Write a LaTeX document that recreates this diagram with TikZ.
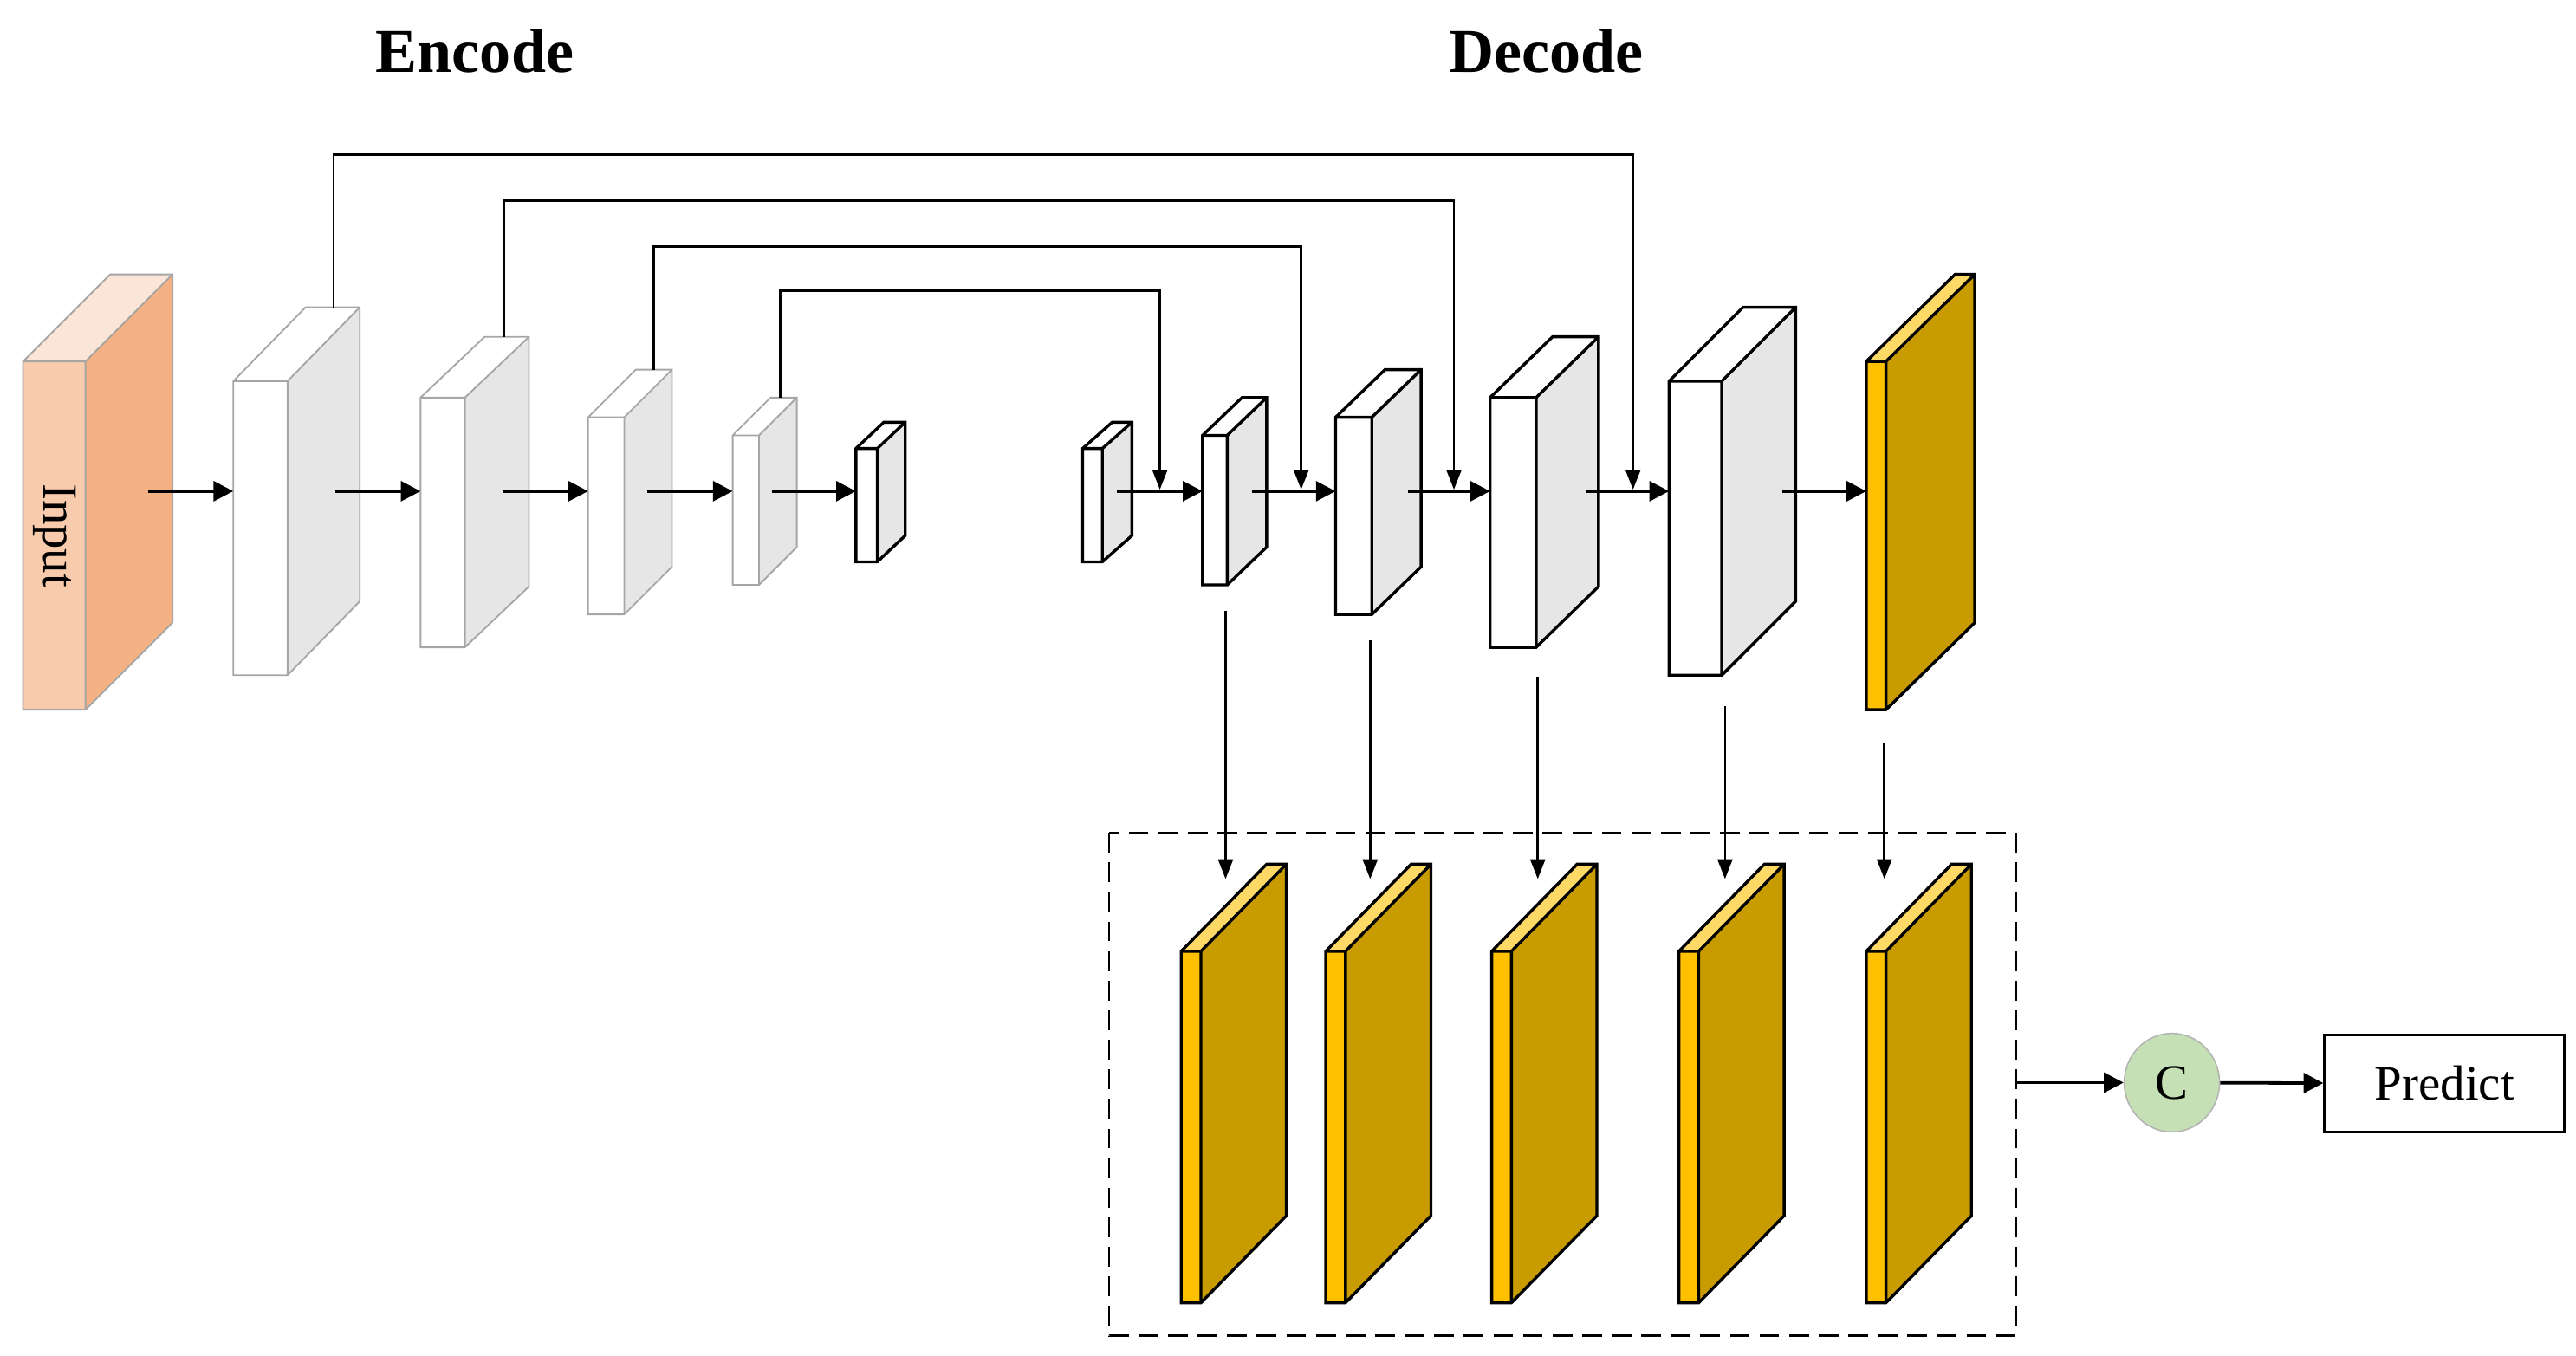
\documentclass[tikz,border=0pt]{standalone}
\usepackage{fontspec}
\setmainfont{Liberation Serif}
\usetikzlibrary{arrows.meta,shapes.geometric}
\definecolor{inF}{HTML}{F8CBAD}\definecolor{inS}{HTML}{F4B183}\definecolor{inT}{HTML}{FBE5D6}
\definecolor{gF}{HTML}{FFC000}\definecolor{gS}{HTML}{C89B00}\definecolor{gT}{HTML}{FFD966}
\definecolor{gS2}{HTML}{E6E6E6}\definecolor{cG}{HTML}{C5E0B4}
\newcommand\cubeblk[9]{%
 \fill[#9] (#1,#3)--(#1+#5,#3-#6)--(#2+#5,#3-#6)--(#2,#3)--cycle;
 \fill[#8] (#2,#3)--(#2+#5,#3-#6)--(#2+#5,#4-#6)--(#2,#4)--cycle;
 \fill[#7] (#1,#3) rectangle (#2,#4);
 \draw[blk] (#1,#3)--(#1+#5,#3-#6)--(#2+#5,#3-#6)--(#2+#5,#4-#6)--(#2,#4)--(#1,#4)--cycle
   (#1,#3)--(#2,#3)--(#2+#5,#3-#6) (#2,#3)--(#2,#4);}
\tikzset{blk/.style={draw=black!30,line width=0.6pt},
 arr/.style={-{Triangle[length=6pt,width=6pt]},line width=1pt},
 skip/.style={-{Triangle[length=6pt,width=4.5pt]},line width=0.7pt},
 dec/.style={blk/.style={draw=black,line width=0.9pt}}}
\begin{document}
\begin{tikzpicture}[x=0.5pt,y=-0.5pt]
\useasboundingbox (0,0) rectangle (1568,825);
\node[font=\bfseries\fontsize{19}{22}\selectfont] (enc) at (289,31) {Encode};
\node[font=\bfseries\fontsize{19}{22}\selectfont] (decl) at (941,31) {Decode};
% encoder
\begin{scope}[blk/.style={draw=black!35,line width=0.5pt}]
\cubeblk{14}{52}{220}{432}{53}{53}{inF}{inS}{inT}
\cubeblk{142}{175}{232}{411}{44}{45}{white}{gS2}{white}
\cubeblk{256}{283}{242}{394}{39}{37}{white}{gS2}{white}
\cubeblk{358}{380}{254}{374}{29}{29}{white}{gS2}{white}
\cubeblk{446}{462}{265}{356}{23}{23}{white}{gS2}{white}
\end{scope}
\node[rotate=-90,font=\fontsize{15}{18}\selectfont] (inp) at (33,326) {Input};
\begin{scope}[dec]
\cubeblk{521}{534}{273}{342}{17}{16}{white}{gS2}{white}
\cubeblk{659}{671}{273}{342}{18}{16}{white}{gS2}{white}
\cubeblk{732}{747}{265}{356}{24}{23}{white}{gS2}{white}
\cubeblk{813}{835}{254}{374}{30}{29}{white}{gS2}{white}
\cubeblk{907}{935}{242}{394}{38}{37}{white}{gS2}{white}
\cubeblk{1016}{1048}{232}{411}{45}{45}{white}{gS2}{white}
\cubeblk{1136}{1148}{220}{432}{54}{53}{gF}{gS}{gT}
\foreach \a/\b in {719/731,807/819,908/920,1022/1034,1136/1148}
 \cubeblk{\a}{\b}{579}{793}{52}{53}{gF}{gS}{gT};
\end{scope}
% horizontal arrows
\foreach \a/\b in {90/142,204/256,306/358,394/446,470/521,680/732,762/813,857/907,965/1016,1085/1136}
 \draw[arr] (\a,299)--(\b,299);
% skips
\foreach \x/\t/\y/\e in {475/242/177/706,398/225/150/792,307/205/122/885,203/187/94/994}
 \draw[skip] (\x,\t)--(\x,\y)--(\e,\y)--(\e,298);
% down arrows
\foreach \x/\t in {746/372,834/390,936/412,1050/430,1147/452}
 \draw[skip] (\x,\t)--(\x,535);
\draw[line width=0.7pt,dash pattern=on 6pt off 3pt] (675,507) rectangle (1227,813);
\node[ellipse,draw=black!30,fill=cG,minimum width=29pt,minimum height=30pt,inner sep=0pt,
 font=\fontsize{15}{18}\selectfont] (c) at (1322,659) {C};
\node[draw,line width=0.8pt,minimum width=73pt,minimum height=29.5pt,
 font=\fontsize{15}{18}\selectfont] (pred) at (1488,659.5) {Predict};
\coordinate (bx) at (1227,659);
\draw[arr] (bx)--(c);
\draw[arr] (c)--(pred);
\end{tikzpicture}
\end{document}
